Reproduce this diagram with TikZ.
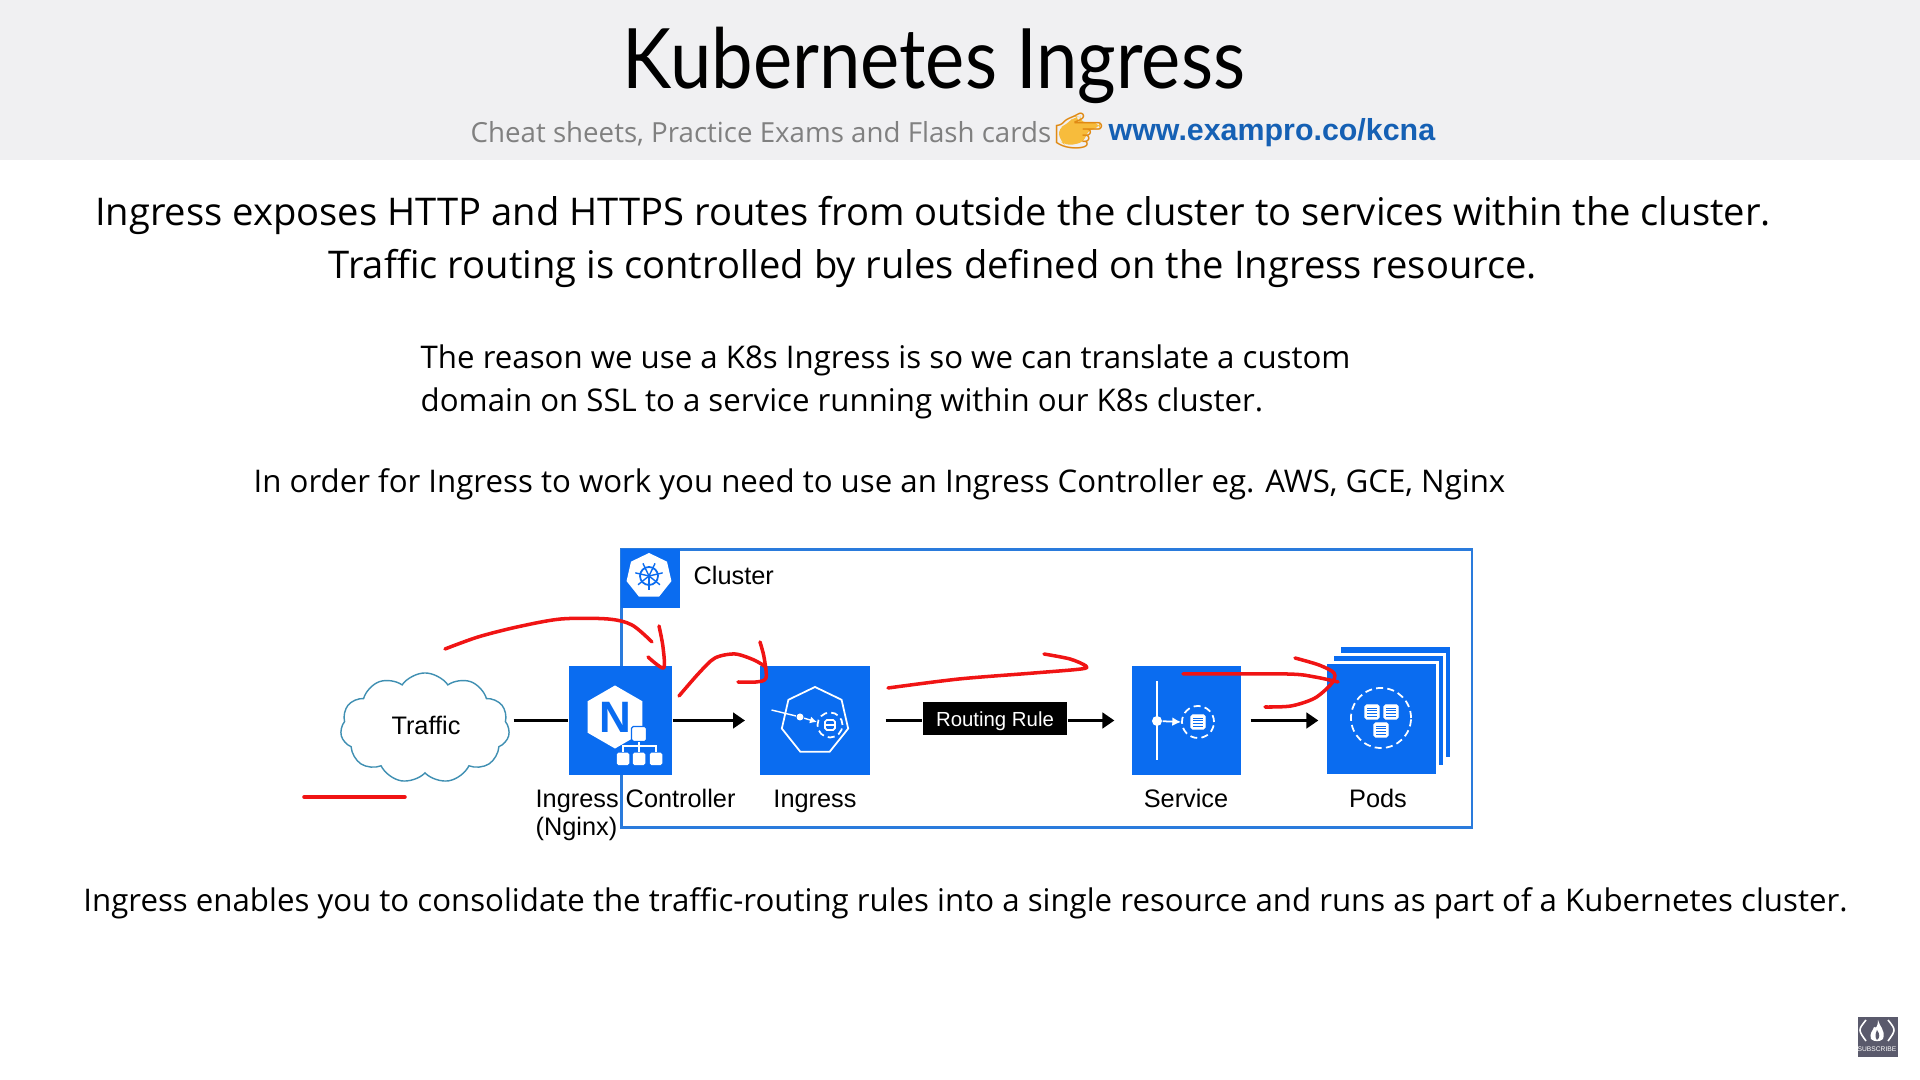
\documentclass[tikz,border=0pt]{standalone}
\usepackage{fontspec}
\usepackage{xcolor}
\usepackage{tikz}
\usetikzlibrary{arrows.meta,positioning,calc,shapes.geometric,shapes.symbols}
\setmainfont{Open Sans}
\setsansfont{Liberation Sans}
\newfontfamily\titlefont{Lato}
\newfontfamily\emojifont{Noto Emoji}
\definecolor{bandgray}{HTML}{F0F0F2}
\definecolor{subgray}{HTML}{808080}
\definecolor{linkblue}{HTML}{1560B4}
\definecolor{handorange}{HTML}{F7BC3C}
\definecolor{handedge}{HTML}{E08A14}
\definecolor{kubeblue}{HTML}{0A6CF0}
\definecolor{frameblue}{HTML}{2A7BDC}
\definecolor{cloudteal}{HTML}{3F8FB2}
\definecolor{penred}{HTML}{F01414}
\definecolor{badgegray}{HTML}{5A5A6C}
\begin{document}
\begin{tikzpicture}[>={Triangle[length=3.4pt,width=4.4pt]},x=0.01cm,y=-0.01cm,
  bodyline/.style={inner sep=0pt,font=\fontsize{10.85}{13}\selectfont},
  smallline/.style={inner sep=0pt,font=\fontsize{8.88}{11}\selectfont},
  lbl/.style={inner sep=0pt,font=\sffamily\fontsize{7.2}{8}\selectfont},
  tile/.style={draw=none,fill=kubeblue,minimum width=1.09cm,minimum height=1.09cm,inner sep=0pt},
  podtile/.style={tile,anchor=north west,draw=white,line width=0.8pt,minimum width=1.12cm,minimum height=1.12cm},
  ar/.style={->,line width=0.85pt,black},
  ln/.style={line width=0.85pt,black},
  pen/.style={penred,line width=1pt,line cap=round,line join=round},
  dashring/.style={white,line width=0.5pt,dash pattern=on 2pt off 1.2pt},
  podfile/.pic={
    \draw[white,fill=white,rounded corners=0.5pt] (-7,-7) rectangle (7,7);
    \foreach \yy in {-4,-1.3,1.3,4} \draw[kubeblue,line width=0.25pt] (-5,\yy) -- (5,\yy);
  }]
\useasboundingbox (0,0) rectangle (1920,1080);
% header band
\fill[bandgray] (0,0) rectangle (1920,160);
\node[inner sep=0pt,font=\titlefont\fontsize{23.7}{28}\selectfont] (title) at (934,65) {\scalebox{0.89}[1]{Kubernetes Ingress}};
\node[inner sep=0pt,anchor=west,text=subgray,font=\fontsize{7.87}{10}\selectfont] (sub) at (470,134) {Cheat sheets, Practice Exams and Flash cards};
\fill[handorange,rounded corners=2pt] (1058,128) -- (1068,124) -- (1074,116) -- (1080,117) -- (1079,122) -- (1100,123) -- (1100,128) -- (1087,130) -- (1085,142) -- (1066,146) -- (1060,141) -- cycle;
\node[inner sep=0pt,text=handedge,font=\emojifont\fontsize{11.2}{14}\selectfont] (hand) at (1079,131) {^^^^^^01f449};
\node[inner sep=0pt,anchor=west,text=linkblue,font=\sffamily\bfseries\fontsize{8.64}{10}\selectfont] (link) at (1108,133) {www.exampro.co/kcna};
% text lines
\node[bodyline] (introa) at (933,215) {Ingress exposes HTTP and HTTPS routes from outside the cluster to services within the cluster.};
\node[bodyline] (introb) at (933,268) {Traffic routing is controlled by rules defined on the Ingress resource.};
\node[smallline,anchor=west] (whya) at (420,360) {The reason we use a K8s Ingress is so we can translate a custom};
\node[smallline,anchor=west] (whyb) at (420,403) {domain on SSL to a service running within our K8s cluster.};
\node[smallline,anchor=west] (need) at (253,484) {In order for Ingress to work you need to use an Ingress Controller eg. AWS, GCE, Nginx};
\node[smallline] (closing) at (965.5,903) {Ingress enables you to consolidate the traffic-routing rules into a single resource and runs as part of a Kubernetes cluster.};
% cluster frame
\node[draw=frameblue,line width=0.85pt,inner sep=0pt,minimum width=8.5cm,minimum height=2.78cm,anchor=north west] (cluster) at (620,548) {};
\node[fill=kubeblue,inner sep=0pt,minimum width=0.59cm,minimum height=0.59cm,anchor=north west] (helmtile) at (620,548) {};
\node[regular polygon,regular polygon sides=7,fill=white,inner sep=0pt,minimum size=0.46cm] (helm) at (649,576) {};
\draw[kubeblue,line width=0.5pt] (helm.center) circle (9);
\foreach \aa in {90,141.4,192.9,244.3,295.7,347.1,398.6}
  \draw[kubeblue,line width=0.4pt] (helm.center) -- ++(\aa:14);
\node[lbl,anchor=west] (clusterlbl) at (693,575) {Cluster};
% diagram nodes
\node[cloud,cloud puffs=11,cloud puff arc=110,aspect=1.55,draw=cloudteal,fill=white,line width=0.4pt,minimum width=1.69cm,minimum height=1.1cm,inner sep=0pt] (traffic) at (425,728) {};
\node[lbl] (trafficlbl) at (426,725) {Traffic};
\node[tile,minimum width=1.03cm] (nginx) at (620.5,720.5) {};
\node[tile] (ingress) at (815,720.5) {};
\node[tile] (service) at (1186.5,720.5) {};
\node[podtile] (podc) at (1338,644.5) {};
\node[podtile] (podb) at (1331,653) {};
\node[podtile] (pods) at (1324,661.5) {};
\node[fill=black,text=white,inner sep=0pt,minimum width=1.445cm,minimum height=0.31cm,text height=1.3ex,text depth=0.5ex,font=\sffamily\fontsize{5.8}{8}\selectfont] (rule) at (995,718.5) {Routing Rule};
% connectors
\draw[ln,shorten <=1.2pt] (traffic.east |- nginx.west) -- (nginx.west);
\draw[ar,shorten >=4.2pt] (nginx) -- (ingress);
\draw[ln,shorten <=4.4pt] (ingress.east) -- (ingress.east -| rule.west);
\draw[ar,shorten >=4.8pt] (rule.east |- service.west) -- (service.west);
\draw[ar,shorten <=2.5pt,shorten >=1.6pt] (service.east) -- (pods.west |- service.east);
% nginx icon
\node[regular polygon,regular polygon sides=6,regular polygon rotate=30,fill=white,text=kubeblue,inner sep=0pt,minimum size=0.63cm,font=\sffamily\bfseries\fontsize{12.5}{14}\selectfont] (nhex) at (615,717) {N};
\node[fill=white,draw=kubeblue,line width=0.4pt,rounded corners=0.5pt,minimum size=0.15cm,inner sep=0pt] (netroot) at (639,734) {};
\foreach \nn/\xx in {neta/623,netb/639,netc/656}
  \node[fill=white,rounded corners=0.5pt,minimum size=0.125cm,inner sep=0pt] (\nn) at (\xx,759) {};
\draw[white,line width=0.4pt] (netroot.south) -- (netb.north) (neta.north) -- ++(0,-6) -| (netc.north);
% ingress icon
\node[regular polygon,regular polygon sides=7,draw=white,line width=0.5pt,inner sep=0pt,minimum size=0.68cm] (ingpoly) at (815,721) {};
\node[circle,fill=white,minimum size=0.07cm,inner sep=0pt] (ingdot) at (800,717) {};
\coordinate (ingfree) at (771.5,710);
\draw[white,line width=0.4pt,-{Latex[length=2pt,width=2pt]}] (ingfree) -- (ingdot) -- (817,722);
\node[circle,dashring,draw=white,minimum size=0.25cm,inner sep=0pt] (ingring) at (830,725) {};
\draw[white,line width=0.5pt,rounded corners=0.5pt] (825,720) rectangle (835,730) (825,725) -- (835,725);
% service icon
\coordinate (svctop) at (1157,681);
\coordinate (svcbot) at (1157,760);
\draw[white,line width=0.4pt] (svctop) -- (svcbot);
\node[circle,fill=white,minimum size=0.1cm,inner sep=0pt] (svcdot) at (1157,721) {};
\node[circle,dashring,draw=white,minimum size=0.32cm,inner sep=0pt] (svcring) at (1198,722) {};
\draw[white,line width=0.5pt,-{Latex[length=2.5pt,width=2.5pt]}] (svcdot) -- (svcring.west);
\pic at (1198,722) {podfile};
% pods icon
\node[circle,dashring,draw=white,minimum size=0.6cm,inner sep=0pt] (podring) at (1381,718) {};
\pic at (1372,712) {podfile};
\pic at (1391,712) {podfile};
\pic at (1381,730) {podfile};
% labels under tiles
\node[lbl,align=left,anchor=north west] (nginxlbl) at (535,788.5) {Ingress Controller\\(Nginx)};
\node[lbl,anchor=base] (ingresslbl) at (815,808) {Ingress};
\node[lbl,anchor=base] (servicelbl) at (1186,808) {Service};
\node[lbl,anchor=base] (podslbl) at (1378,808) {Pods};
% pen strokes
\draw[pen] plot[smooth,tension=0.5] coordinates {(445,649) (478,637) (517,627) (561,619) (608,619) (632,625) (652,642)};
\draw[pen] plot[smooth,tension=0.5] coordinates {(659,626) (663,647) (663.5,668) (648,657)};
\draw[pen] plot[smooth,tension=0.5] coordinates {(679,696) (699,673) (715,658) (735,654) (754,660) (766,667)};
\draw[pen] plot[smooth,tension=0.5] coordinates {(760,642) (764,657) (766,678) (756,682) (738,682)};
\draw[pen] (304,797) -- (405,797);
\draw[pen] plot[smooth,tension=0.5] coordinates {(888,688) (959,679) (1034,673) (1081,669) (1086,666) (1070,659) (1044,654)};
\draw[pen] plot[smooth,tension=0.5] coordinates {(1183,674) (1287,674) (1315,677) (1338,682)};
\draw[pen] plot[smooth,tension=0.5] coordinates {(1295,658) (1319,665) (1334,673) (1332,683) (1315,698) (1291,706) (1265,707)};
% subscribe badge
\node[fill=badgegray,inner sep=0pt,minimum size=0.4cm,anchor=north west] (badge) at (1857,1016) {};
\draw[white,line width=0.45pt] (1866,1020) .. controls (1858,1030) .. (1866,1041) (1888,1020) .. controls (1896,1030) .. (1888,1041);
\fill[white] (1878,1020) .. controls (1879,1026) and (1886,1030) .. (1883,1039) .. controls (1880,1042) and (1874,1042) .. (1871,1039) .. controls (1869,1033) and (1873,1031) .. (1874,1027) .. controls (1876,1029) and (1878,1026) .. (1878,1020);
\fill[badgegray] (1877,1030) .. controls (1880,1034) and (1880,1038) .. (1877,1040) .. controls (1875,1038) and (1875,1034) .. (1877,1030);
\node[text=white,inner sep=0pt,font=\sffamily\fontsize{1.9}{2}\selectfont] (subscribe) at (1877,1049) {SUBSCRIBE};
\end{tikzpicture}
\end{document}
